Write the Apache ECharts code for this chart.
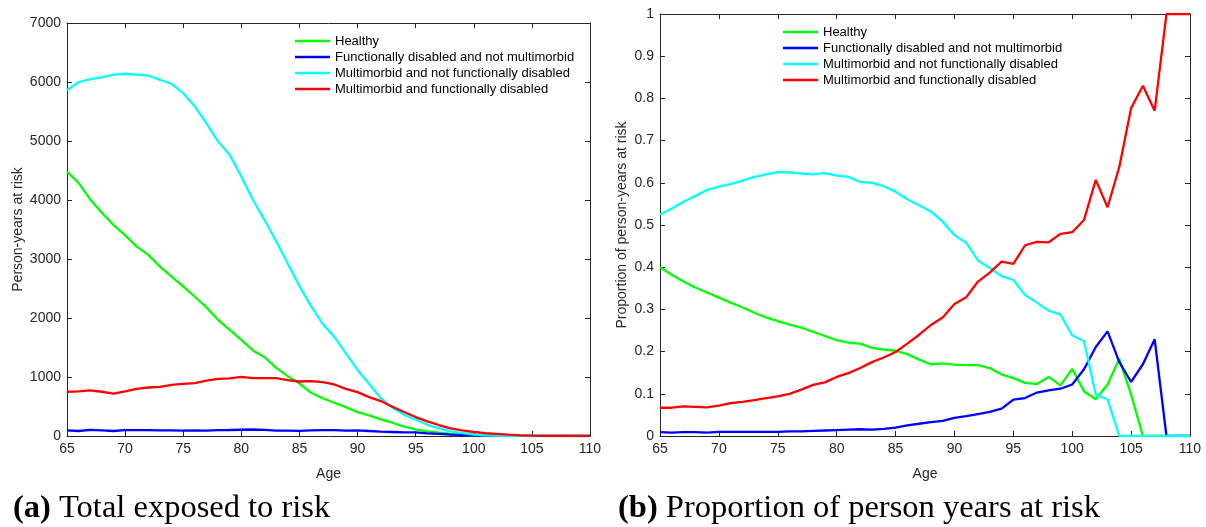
<!DOCTYPE html>
<html>
<head>
<meta charset="utf-8">
<script src="https://cdn.jsdelivr.net/npm/echarts@6/dist/echarts.min.js"></script>
<style>
  html, body { margin: 0; padding: 0; background: #fff; }
  #chart { width: 1206px; height: 527px; }
</style>
</head>
<body>
<div id="chart"></div>
<script>
// Ages 65..110
const ages = [];
for (let a = 65; a <= 110; a++) ages.push(a);

const stateNames = [
  'Healthy',
  'Functionally disabled and not multimorbid',
  'Multimorbid and not functionally disabled',
  'Multimorbid and functionally disabled'
];
const stateColors = ['#00ff00', '#0000ff', '#00ffff', '#ff0000'];

// (a) person-years at risk by state
const pyHealthy = [4480, 4290, 4010, 3785, 3575, 3405, 3210, 3070, 2870, 2700,
  2535, 2360, 2180, 1970, 1800, 1630, 1450, 1335, 1155, 1014,
  890, 732, 640, 563, 490, 405, 350, 282, 225, 158,
  113, 80, 55, 35, 20, 10, 6, 3, 2, 1,
  0, 0, 0, 0, 0, 0];
const pyDisabled = [95, 85, 105, 95, 85, 100, 100, 98, 95, 96,
  92, 93, 92, 100, 102, 106, 110, 105, 90, 92,
  88, 95, 100, 100, 92, 95, 85, 75, 68, 60,
  60, 45, 35, 25, 18, 12, 8, 5, 4, 2,
  1, 0, 0, 0, 0, 0];
const pyMultimorbid = [5860, 6000, 6050, 6080, 6125, 6140, 6125, 6110, 6035, 5970,
  5810, 5585, 5300, 4990, 4765, 4400, 4000, 3660, 3300, 2920,
  2540, 2200, 1900, 1680, 1400, 1120, 880, 640, 480, 360,
  280, 190, 130, 80, 50, 25, 12, 5, 2, 0,
  0, 0, 0, 0, 0, 0];
const pyBoth = [750, 755, 772, 750, 720, 755, 800, 822, 834, 868,
  885, 896, 940, 969, 975, 1003, 980, 980, 980, 946,
  924, 930, 913, 873, 800, 744, 659, 592, 496, 406,
  321, 248, 186, 130, 96, 68, 48, 35, 22, 12,
  6, 3, 1, 1, 0, 0];

// (b) proportion of person-years at risk by state
const prHealthy = [0.400, 0.382, 0.366, 0.352, 0.340, 0.328, 0.316, 0.305, 0.292, 0.281,
  0.272, 0.264, 0.257, 0.247, 0.237, 0.227, 0.221, 0.219, 0.209, 0.205,
  0.202, 0.194, 0.181, 0.170, 0.172, 0.169, 0.168, 0.168, 0.161, 0.146,
  0.137, 0.126, 0.123, 0.140, 0.120, 0.159, 0.106, 0.087, 0.122, 0.183,
  0.098, 0, 0, 0, 0, 0];
const prDisabled = [0.009, 0.008, 0.009, 0.009, 0.008, 0.010, 0.010, 0.010, 0.010, 0.010,
  0.010, 0.011, 0.011, 0.012, 0.013, 0.014, 0.015, 0.016, 0.015, 0.017,
  0.020, 0.025, 0.029, 0.033, 0.036, 0.043, 0.047, 0.052, 0.057, 0.065,
  0.086, 0.090, 0.103, 0.108, 0.112, 0.122, 0.158, 0.211, 0.248, 0.175,
  0.128, 0.170, 0.229, 0, 0, 0];
const prMultimorbid = [0.525, 0.539, 0.555, 0.569, 0.583, 0.591, 0.597, 0.605, 0.614, 0.620,
  0.625, 0.625, 0.622, 0.620, 0.623, 0.617, 0.614, 0.602, 0.600, 0.592,
  0.579, 0.561, 0.547, 0.532, 0.508, 0.476, 0.458, 0.416, 0.398, 0.379,
  0.370, 0.334, 0.316, 0.297, 0.288, 0.238, 0.225, 0.098, 0.087, 0,
  0, 0, 0, 0, 0, 0];
const prBoth = [0.067, 0.067, 0.070, 0.069, 0.068, 0.072, 0.078, 0.081, 0.085, 0.090,
  0.094, 0.100, 0.110, 0.121, 0.127, 0.140, 0.149, 0.161, 0.175, 0.186,
  0.199, 0.219, 0.240, 0.263, 0.281, 0.313, 0.329, 0.366, 0.387, 0.413,
  0.408, 0.452, 0.460, 0.459, 0.479, 0.483, 0.512, 0.607, 0.542, 0.638,
  0.777, 0.830, 0.771, 1.0, 1.0, 1.0];

const panelA = [pyHealthy, pyDisabled, pyMultimorbid, pyBoth];
const panelB = [prHealthy, prDisabled, prMultimorbid, prBoth];

const axisColor = '#262626';
const font = 'Liberation Sans, Arial, Helvetica, sans-serif';
const serif = 'Liberation Serif, DejaVu Serif, serif';

function pairs(values) {
  return ages.map((a, i) => [a, values[i]]);
}
// plain numbers, no thousands separators
const plain = v => String(v);

function mainX(gridIndex) {
  return {
    type: 'value', gridIndex, min: 65, max: 110, interval: 5,
    name: 'Age', nameLocation: 'middle', nameGap: 31,
    nameTextStyle: { color: axisColor, fontSize: 14, fontFamily: font },
    axisLine: { onZero: false, lineStyle: { color: axisColor, width: 1 } },
    axisTick: { inside: true, length: 5, lineStyle: { color: axisColor } },
    axisLabel: { color: axisColor, fontSize: 14, fontFamily: font, margin: 6, formatter: plain },
    splitLine: { show: false }
  };
}
function mirrorX(gridIndex) {
  return {
    type: 'value', gridIndex, min: 65, max: 110, interval: 5, position: 'top',
    axisLine: { onZero: false, lineStyle: { color: axisColor, width: 1 } },
    axisTick: { inside: true, length: 5, lineStyle: { color: axisColor } },
    axisLabel: { show: false }, splitLine: { show: false }
  };
}
function mainY(gridIndex, max, interval, name, gap) {
  return {
    type: 'value', gridIndex, min: 0, max, interval,
    name, nameLocation: 'middle', nameGap: gap,
    nameTextStyle: { color: axisColor, fontSize: 14, fontFamily: font },
    axisLine: { show: true, onZero: false, lineStyle: { color: axisColor, width: 1 } },
    axisTick: { show: true, inside: true, length: 5, lineStyle: { color: axisColor } },
    axisLabel: { color: axisColor, fontSize: 14, fontFamily: font, margin: 6, formatter: plain },
    splitLine: { show: false }
  };
}
function mirrorY(gridIndex, max, interval) {
  return {
    type: 'value', gridIndex, min: 0, max, interval, position: 'right',
    axisLine: { show: true, onZero: false, lineStyle: { color: axisColor, width: 1 } },
    axisTick: { show: true, inside: true, length: 5, lineStyle: { color: axisColor } },
    axisLabel: { show: false }, splitLine: { show: false }
  };
}

const series = [];
panelA.forEach((vals, k) => {
  series.push({
    name: stateNames[k], type: 'line', xAxisIndex: 0, yAxisIndex: 0,
    data: pairs(vals), showSymbol: false, symbol: 'none',
    lineStyle: { color: stateColors[k], width: 2.3 }, itemStyle: { color: stateColors[k] },
    z: k === 3 ? 4 : 3, animation: false
  });
});
panelB.forEach((vals, k) => {
  series.push({
    name: stateNames[k], type: 'line', xAxisIndex: 2, yAxisIndex: 2,
    data: pairs(vals), showSymbol: false, symbol: 'none',
    lineStyle: { color: stateColors[k], width: 2.3 }, itemStyle: { color: stateColors[k] },
    z: 3, animation: false
  });
});

function legendAt(left, top) {
  return {
    orient: 'vertical', left, top,
    data: stateNames.map(n => ({ name: n, icon: 'rect' })),
    itemWidth: 35, itemHeight: 2.5, itemGap: 1,
    textStyle: { color: '#000', fontSize: 13, fontFamily: font, lineHeight: 15 },
    selectedMode: false
  };
}

const capSize = 32.5;
function caption(left, tag, text) {
  return {
    type: 'text', left, top: 492,
    style: {
      text: '{b|' + tag + '} ' + text,
      rich: { b: { fontWeight: 'bold', fontSize: capSize, fontFamily: serif, fill: '#000' } },
      fontSize: capSize, fontFamily: serif, fill: '#000'
    }
  };
}

const chart = echarts.init(document.getElementById('chart'), null, { renderer: 'canvas' });
chart.setOption({
  backgroundColor: '#ffffff',
  animation: false,
  grid: [
    { left: 67, right: 616, top: 23, bottom: 91 },
    { left: 660, right: 16, top: 14, bottom: 91 }
  ],
  xAxis: [mainX(0), mirrorX(0), mainX(1), mirrorX(1)],
  yAxis: [
    mainY(0, 7000, 1000, 'Person-years at risk', 42),
    mirrorY(0, 7000, 1000),
    mainY(1, 1, 0.1, 'Proportion of person-years at risk', 31),
    mirrorY(1, 1, 0.1)
  ],
  legend: [legendAt(290, 28.5), legendAt(778, 19.5)],
  series,
  graphic: [
    caption(13, '(a)', 'Total exposed to risk'),
    caption(618, '(b)', 'Proportion of person years at risk')
  ]
});
</script>
</body>
</html>
